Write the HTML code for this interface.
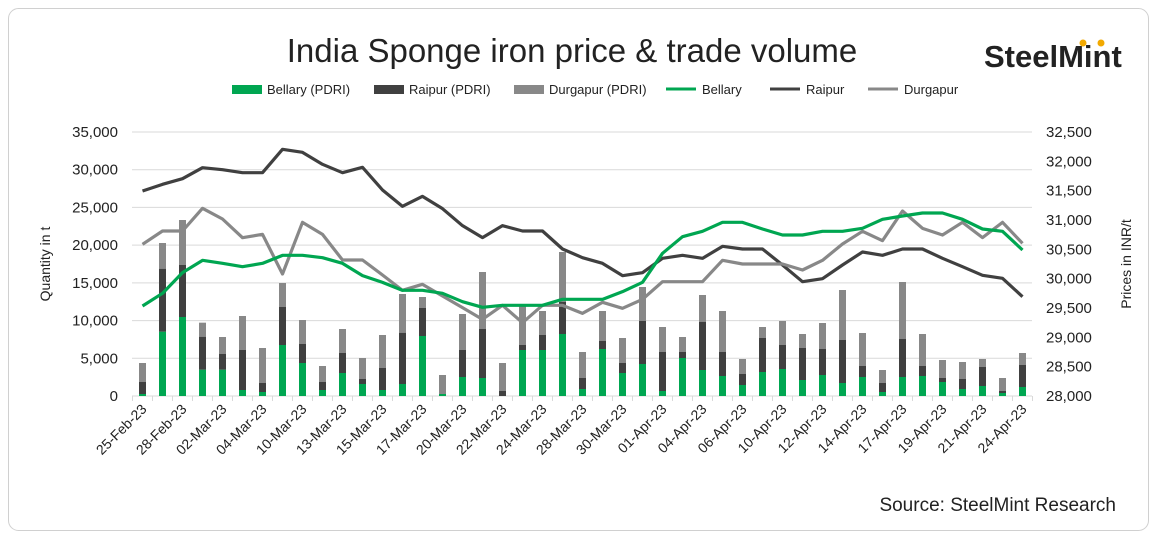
<!DOCTYPE html>
<html><head><meta charset="utf-8"><style>
body{margin:0;background:#fff;}
svg text{font-family:"Liberation Sans",sans-serif;fill:#222;}
</style></head><body>
<svg id="c" width="1167" height="541" xmlns="http://www.w3.org/2000/svg">
<rect x="8.5" y="8.5" width="1140" height="522" rx="10" fill="#fff" stroke="#d0d0d0"/>
<text x="572" y="62" font-size="33" text-anchor="middle" fill="#222">India Sponge iron price &amp; trade volume</text>
<text x="984" y="67" font-size="31" font-weight="bold" fill="#3a3a3a">SteelMint</text>
<circle cx="1083" cy="43" r="3.5" fill="#f2a900"/><circle cx="1101" cy="43" r="3.5" fill="#f2a900"/>
<g font-size="13">
<rect x="232" y="85" width="30" height="9" fill="#00a651"/><text x="267" y="94">Bellary (PDRI)</text>
<rect x="374" y="85" width="30" height="9" fill="#404040"/><text x="409" y="94">Raipur (PDRI)</text>
<rect x="514" y="85" width="30" height="9" fill="#888"/><text x="549" y="94">Durgapur (PDRI)</text>
<line x1="666" y1="89" x2="696" y2="89" stroke="#00a651" stroke-width="3"/><text x="702" y="94">Bellary</text>
<line x1="770" y1="89" x2="800" y2="89" stroke="#404040" stroke-width="3"/><text x="806" y="94">Raipur</text>
<line x1="868" y1="89" x2="898" y2="89" stroke="#888" stroke-width="3"/><text x="904" y="94">Durgapur</text>
</g>
<text transform="translate(50,264) rotate(-90)" font-size="14" text-anchor="middle">Quantity in t</text>
<text transform="translate(1131,264) rotate(-90)" font-size="14" text-anchor="middle">Prices in INR/t</text>
<text x="1116" y="511" font-size="19" text-anchor="end">Source: SteelMint Research</text>
<g id="g"></g>
</svg>
<script>
var g=document.getElementById('g'),h='';
for(var i=0;i<=7;i++){var y=396-i*264/7;
h+='<line x1="132" x2="1032" y1="'+y+'" y2="'+y+'" stroke="#d9d9d9"/>';
h+='<text x="118" y="'+(y+5)+'" font-size="15" text-anchor="end">'+(i*5000).toLocaleString('en-US')+'</text>';}
for(var i=0;i<=9;i++){var y=396-i*264/9;
h+='<text x="1046" y="'+(y+5)+'" font-size="15">'+(28000+i*500).toLocaleString('en-US')+'</text>';}
for(var i=0;i<=45;i++){var x=132.5+20*i;h+='<line x1="'+x+'" x2="'+x+'" y1="396" y2="401" stroke="#d9d9d9"/>';}
var B=[[792,756,699],[605,416,339],[561,405,270],[719,620,578],[719,672,621],[780,660,558],[786,759,654],[645,531,459],[699,642,570],[780,756,708],[729,669,597],[762,747,684],[780,714,615],[762,608,492],[618,534,501],[792,792,735],[741,660,552],[744,597,426],[798,783,699],[660,645,528],[660,615,543],[612,516,366],[777,744,666],[657,633,543],[729,699,624],[702,573,471],[783,666,591],[684,666,621],[720,576,495],[738,666,543],[765,732,687],[726,624,591],[717,645,573],[750,654,612],[735,657,579],[759,630,480],[741,708,609],[786,759,720],[741,627,456],[738,708,612],[756,744,690],[777,747,696],[768,711,687],[789,783,744],[771,705,669]];
function p(z){return 130+z/3;}
var cols=['#00a651','#404040','#888'];
B.forEach(function(b,i){var x=142.5+20*i-3.5,prev=396;
for(var k=0;k<3;k++){var t=p(b[k]);if(prev-t>0)h+='<rect x="'+x+'" y="'+t+'" width="7" height="'+(prev-t)+'" fill="'+cols[k]+'"/>';prev=t;}});
var R=[183,163,146,113,119,128,128,58,67,103,128,112,180,229,199,236,287,323,287,303,303,357,383,400,437,428,385,376,385,349,357,357,405,455,446,405,366,376,357,357,385,410,436,445,500];
var D=[343,303,303,235,267,323,313,432,277,313,390,390,435,481,463,498,533,568,526,578,526,526,550,517,535,508,455,455,455,391,402,402,402,420,391,342,304,332,243,295,315,277,323,277,340];
var E=[528,490,428,391,400,410,400,376,376,383,400,437,457,481,481,490,515,532,526,526,526,508,508,508,485,457,370,320,304,277,277,297,315,315,304,304,295,268,258,249,249,268,297,304,360];
function line(a,c){return '<polyline fill="none" stroke="'+c+'" stroke-width="3.2" stroke-linejoin="round" points="'+a.map(function(z,i){return (142.5+20*i)+','+p(z);}).join(' ')+'"/>';}
h+=line(R,'#404040')+line(D,'#888')+line(E,'#00a651');
var L=['25-Feb-23','28-Feb-23','02-Mar-23','04-Mar-23','10-Mar-23','13-Mar-23','15-Mar-23','17-Mar-23','20-Mar-23','22-Mar-23','24-Mar-23','28-Mar-23','30-Mar-23','01-Apr-23','04-Apr-23','06-Apr-23','10-Apr-23','12-Apr-23','14-Apr-23','17-Apr-23','19-Apr-23','21-Apr-23','24-Apr-23'];
L.forEach(function(s,j){var x=142.5+40*j+5,y=410;h+='<text transform="translate('+x+','+y+') rotate(-45)" font-size="14" text-anchor="end">'+s+'</text>';});
g.innerHTML=h;
</script>
</body></html>
